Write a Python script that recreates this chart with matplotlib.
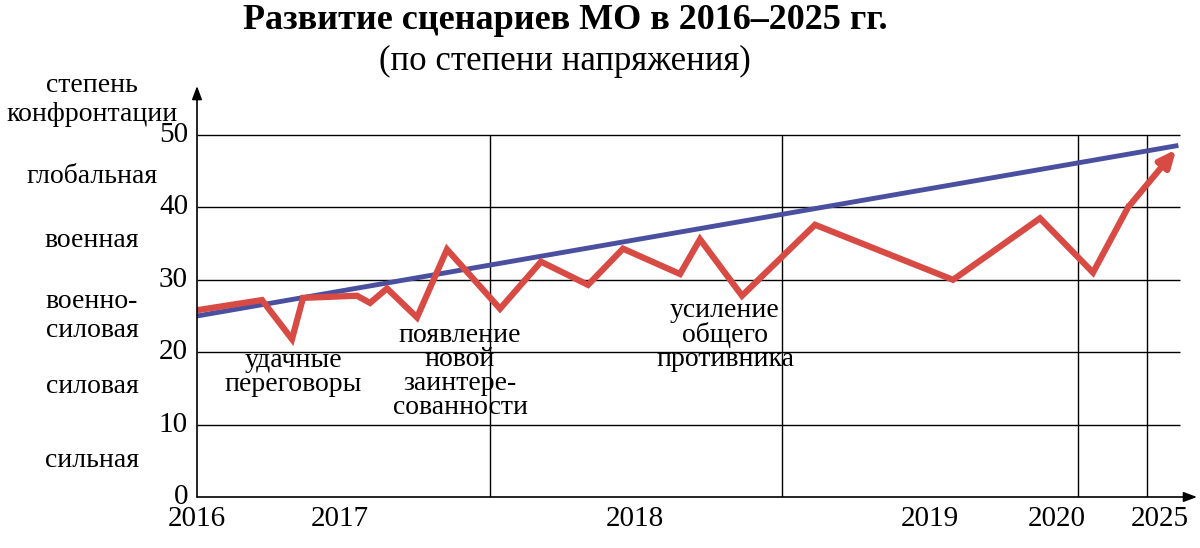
import matplotlib
matplotlib.use("Agg")
import matplotlib.pyplot as plt

plt.rcParams["font.family"] = "Liberation Serif"

# x positions are in a horizontal scale where the chart spans 197..1195
red_x = [197, 262, 292, 303, 357, 370, 387, 417, 447, 500, 541, 588, 623, 680,
         700, 742, 815, 953, 1040, 1093, 1128, 1178]
red_y = [25.8, 27.2, 21.8, 27.5, 27.8, 26.8, 28.8, 24.8, 34.2, 26.0, 32.5, 29.3,
         34.3, 30.8, 35.6, 27.8, 37.6, 30.0, 38.5, 31.0, 40.0, 48.3]
blue_x = [197, 1176]
blue_y = [25.0, 48.5]

year_pos = [197, 340, 635, 930, 1057, 1160]
year_labels = ["2016", "2017", "2018", "2019", "2020", "2025"]
year_bounds = [490, 782, 1078, 1147]

y_ticks = [0, 10, 20, 30, 40, 50]
levels = ["глобальная", "военная", "военно-\nсиловая", "силовая", "сильная"]
level_y = [44.2, 35.4, 25.0, 15.2, 5.0]

notes = ["удачные\nпереговоры", "появление\nновой\nзаинтере-\nсованности",
         "усиление\nобщего\nпротивника"]
note_x = [293, 460, 725]
note_y = [20.6, 24.0, 27.5]

fig = plt.figure(figsize=(12, 5.48), dpi=100)
ax = fig.add_axes([197 / 1200, 51 / 548, (1195 - 197) / 1200, (497 - 88) / 548])
ax.set_xlim(197, 1195)
ax.set_ylim(0, (497 - 88) / 7.24)
for s in ax.spines.values():
    s.set_visible(False)

ax.hlines(y_ticks[1:], 197, 1180, color="black", lw=1)
ax.vlines(year_bounds, 0, 50, color="black", lw=1)
ax.annotate("", xy=(1197, 0), xytext=(197, 0), annotation_clip=False,
            arrowprops=dict(arrowstyle="-|>,head_length=0.8,head_width=0.3", color="black", lw=1.2,
                            shrinkA=0, shrinkB=0))
ax.annotate("", xy=(197, (497 - 86) / 7.24), xytext=(197, 0), annotation_clip=False,
            arrowprops=dict(arrowstyle="-|>,head_length=0.8,head_width=0.3", color="black", lw=1.2,
                            shrinkA=0, shrinkB=0))

ax.plot(blue_x, blue_y, color="#4a4fa0", lw=3.5)
ax.plot(red_x[:-1], red_y[:-1], color="#d84b44", lw=4.5, solid_joinstyle="miter")
ax.annotate("", xy=(red_x[-1], red_y[-1]), xytext=(red_x[-2], red_y[-2]),
            arrowprops=dict(arrowstyle="-|>,head_length=1.0,head_width=0.45",
                            color="#d84b44", lw=4.5))

ax.set_xticks([])
ax.set_yticks([])
for v in y_ticks:
    ax.text(188, v, str(v), ha="right", va="center", fontsize=21)
for x, lab in zip(year_pos, year_labels):
    ax.text(x, -1.2, lab, ha="center", va="top", fontsize=21)
for y, lab in zip(level_y, levels):
    ax.text(92, y, lab, ha="center", va="center", fontsize=20, linespacing=1.2)
ax.text(92, 54.8, "степень\nконфронтации", ha="center", va="center", fontsize=20, linespacing=1.2)
for x, y, lab in zip(note_x, note_y, notes):
    ax.text(x, y, lab, ha="center", va="top", fontsize=20, linespacing=0.95)

fig.text(0.471, 0.962, "Развитие сценариев МО в 2016–2025 гг.", ha="center", va="center",
         fontsize=26, fontweight="bold")
fig.text(0.471, 0.888, "(по степени напряжения)", ha="center", va="center", fontsize=25)

fig.savefig("out.png")
